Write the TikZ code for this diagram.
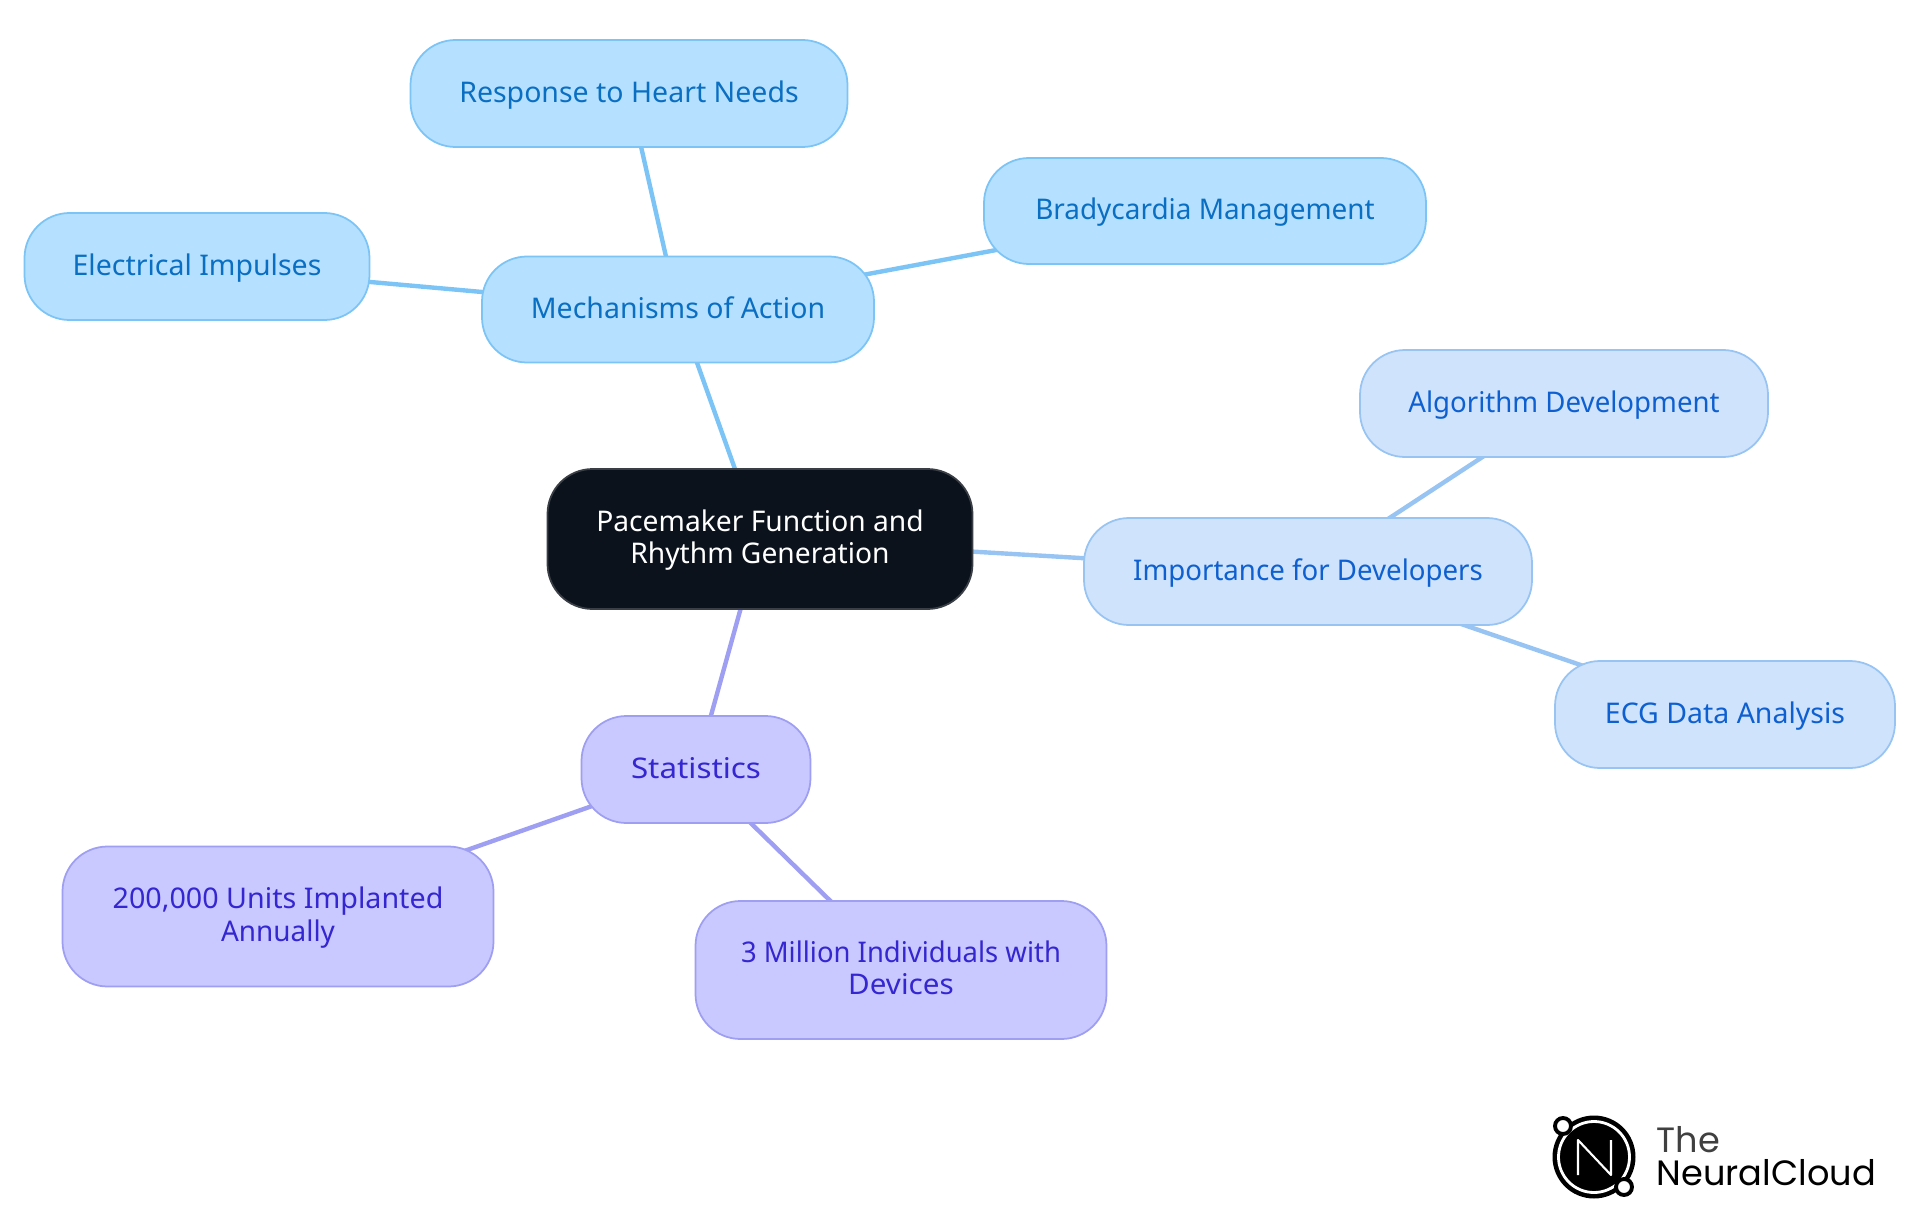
\documentclass[tikz,border=0pt]{standalone}
\usepackage{graphicx}
\usepackage{fontspec}
\setmainfont{Noto Sans}
\newfontfamily\logofont{Poppins}
\usetikzlibrary{backgrounds}
\definecolor{bluefill}{HTML}{B5E0FF}\definecolor{blueline}{HTML}{7CC4F5}\definecolor{bluetext}{HTML}{0A6FC2}
\definecolor{skyfill}{HTML}{CFE3FC}\definecolor{skyline}{HTML}{97C4F2}\definecolor{skytext}{HTML}{0E60D0}
\definecolor{violetfill}{HTML}{C9C9FF}\definecolor{violetline}{HTML}{9E9EF2}\definecolor{violettext}{HTML}{3426D0}
\definecolor{rootfill}{HTML}{0B121B}\definecolor{rootline}{HTML}{3A3F46}
\tikzset{x=0.01cm,y=-0.01cm,
 mapnode/.style={rounded corners=0.45cm,line width=0.5pt,align=center,inner sep=0pt,font=\fontsize{8.1pt}{9.2pt}\selectfont},
 bluenode/.style={mapnode,draw=blueline,fill=bluefill,text=bluetext},
 skynode/.style={mapnode,draw=skyline,fill=skyfill,text=skytext},
 violetnode/.style={mapnode,draw=violetline,fill=violetfill,text=violettext},
 rootnode/.style={mapnode,draw=rootline,fill=rootfill,text=white},
 bluelink/.style={draw=blueline,line width=1.25pt},
 skylink/.style={draw=skyline,line width=1.25pt},
 violetlink/.style={draw=violetline,line width=1.25pt}}
\newcommand{\mapbox}[7]{\node[#1,minimum width=#4*0.01cm,minimum height=#5*0.01cm] (#6) at (#2,#3) {\rule{0pt}{7.0pt}#7\rule[-2.1pt]{0pt}{2.1pt}};}
\newcommand{\xs}[2]{\scalebox{#1}[1]{#2}}
\begin{document}
\begin{tikzpicture}
\useasboundingbox (0,0) rectangle (1920,1215);
\mapbox{rootnode}{760}{539}{425}{140}{root}{\xs{0.99}{Pacemaker Function and}\\\xs{0.99}{Rhythm Generation}}
\mapbox{bluenode}{678}{309.5}{392}{106}{mech}{Mechanisms of Action}
\mapbox{bluenode}{629}{93.5}{437}{107}{resp}{Response to Heart Needs}
\mapbox{bluenode}{1205}{211}{442}{106}{brady}{\xs{0.98}{Bradycardia Management}}
\mapbox{bluenode}{197}{266.5}{345}{107}{elec}{Electrical Impulses}
\mapbox{skynode}{1308}{571.5}{448}{107}{imp}{\xs{0.97}{Importance for Developers}}
\mapbox{skynode}{1564}{403.5}{408}{107}{algo}{\xs{0.97}{Algorithm Development}}
\mapbox{skynode}{1725}{714.5}{340}{107}{ecg}{ECG Data Analysis}
\mapbox{violetnode}{696}{769.5}{229}{107}{stat}{\xs{1.10}{Statistics}}
\mapbox{violetnode}{278}{916.5}{431}{140}{units}{\xs{1.007}{200,000 Units Implanted}\\\xs{0.98}{Annually}}
\mapbox{violetnode}{901}{970}{411}{138}{mill}{\xs{0.963}{3 Million Individuals with}\\\xs{1.04}{Devices}}
\begin{pgfonlayer}{background}
\draw[bluelink] (root.center) -- (mech.center);
\draw[bluelink] (mech.center) -- (resp.center);
\draw[bluelink] (mech.center) -- (brady.center);
\draw[bluelink] (mech.center) -- (elec.center);
\draw[skylink] (root.center) -- (imp.center);
\draw[skylink] (imp.center) -- (algo.center);
\draw[skylink] (imp.center) -- (ecg.center);
\draw[violetlink] (root.center) -- (stat.center);
\draw[violetlink] (stat.center) -- (units.center);
\draw[violetlink] (stat.center) -- (mill.center);
\end{pgfonlayer}
% logo
\fill[black] (1594,1157) circle (41.5);
\draw[white,line width=0.8pt] (1594,1157) circle (35.5);
\draw[white,line width=0.6pt,line join=round] (1578,1175) -- (1578,1140) -- (1611,1175) -- (1611,1140);
\fill[white,draw=black,line width=1.1pt] (1563,1126) circle (8);
\fill[white,draw=black,line width=1.1pt] (1624,1187) circle (8);
\node[anchor=base west,inner sep=0pt,font=\logofont\fontsize{10pt}{10pt}\selectfont,text=black!75] (logoa) at (1656,1152) {The};
\node[anchor=base west,inner sep=0pt,font=\logofont\fontsize{10pt}{10pt}\selectfont,text=black] (logob) at (1656,1185) {NeuralCloud};
\end{tikzpicture}
\end{document}
